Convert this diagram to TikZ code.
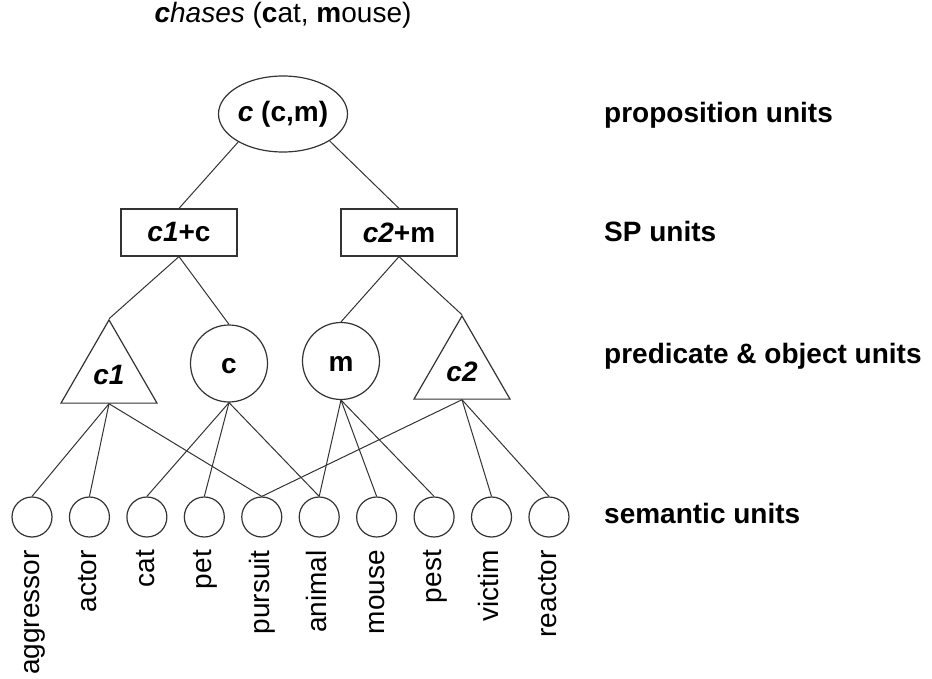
\documentclass[tikz,border=0pt]{standalone}
\usepackage{fontspec}
\setmainfont{Liberation Sans}[Scale=2.8]
\usetikzlibrary{shapes.geometric}
\tikzset{
  shp/.style={draw=black!80, line width=1.2pt, inner sep=0pt},
  link/.style={draw=black!80, line width=1pt},
  semc/.style={shp, circle, minimum size=40pt},
  objc/.style={shp, circle, minimum size=77pt, font=\bfseries, text height=20.5pt, text depth=0pt},
  spbox/.style={shp, rectangle, minimum width=116pt, minimum height=47pt, font=\bfseries},
  pred/.style={shp, regular polygon, regular polygon sides=3, minimum size=110.9pt, font=\bfseries\itshape},
  lvl/.style={font=\bfseries, anchor=base west, inner sep=0pt},
  feat/.style={rotate=90, anchor=mid east, inner sep=0pt},
}
\begin{document}
\begin{tikzpicture}[x=1pt, y=-1pt]
\useasboundingbox (0,0) rectangle (932,679);
% title
\node[anchor=base, inner sep=0pt] (title) at (283,23) {\textbf{\textit{c}}\textit{hases} (\textbf{c}at, \textbf{m}ouse)};
% proposition
\node[shp, ellipse, minimum width=129pt, minimum height=76pt, font=\bfseries] (prop) at (283,114) {\textit{c} (c,m)};
% SP units
\node[spbox] (sp1) at (179,232.5) {\textit{c1}+c};
\node[spbox] (sp2) at (399,232.5) {\textit{c2}+m};
% predicate & object units
\node[pred] (c1) at (109,375.4) {c1};
\node[objc] (c) at (229,363.5) {c};
\node[objc] (m) at (341,361) {m};
\node[pred] (c2) at (462,371.4) {c2};
% semantic units
\foreach \w [count=\i] in {aggressor,actor,cat,pet,pursuit,animal,mouse,pest,victim,reactor}{
  \node[semc] (s\i) at ({32+57.44*(\i-1)},517) {};
  \node[feat] (t\i) at ({32+57.44*(\i-1)},550) {\w};
}
% level labels
\node[lvl] (l1) at (604,123) {proposition units};
\node[lvl] (l2) at (604,242) {SP units};
\node[lvl] (l3) at (604,363) {predicate \& object units};
\node[lvl] (l4) at (604,523) {semantic units};
% connectors
\draw[link] (prop.212) -- (sp1.north);
\draw[link] (prop.330) -- (sp2.north);
\draw[link] (sp1.south) -- (c1.corner 1);
\draw[link] (sp1.south) -- (c.north);
\draw[link] (sp2.south) -- (m.north);
\draw[link] (sp2.south) -- (c2.corner 1);
\foreach \j in {1,2,5}{\draw[link] (c1.side 2) -- (s\j.north);}
\foreach \j in {3,4,6}{\draw[link] (c.south) -- (s\j.north);}
\foreach \j in {6,7,8}{\draw[link] (m.south) -- (s\j.north);}
\foreach \j in {5,9,10}{\draw[link] (c2.side 2) -- (s\j.north);}
\end{tikzpicture}
\end{document}
